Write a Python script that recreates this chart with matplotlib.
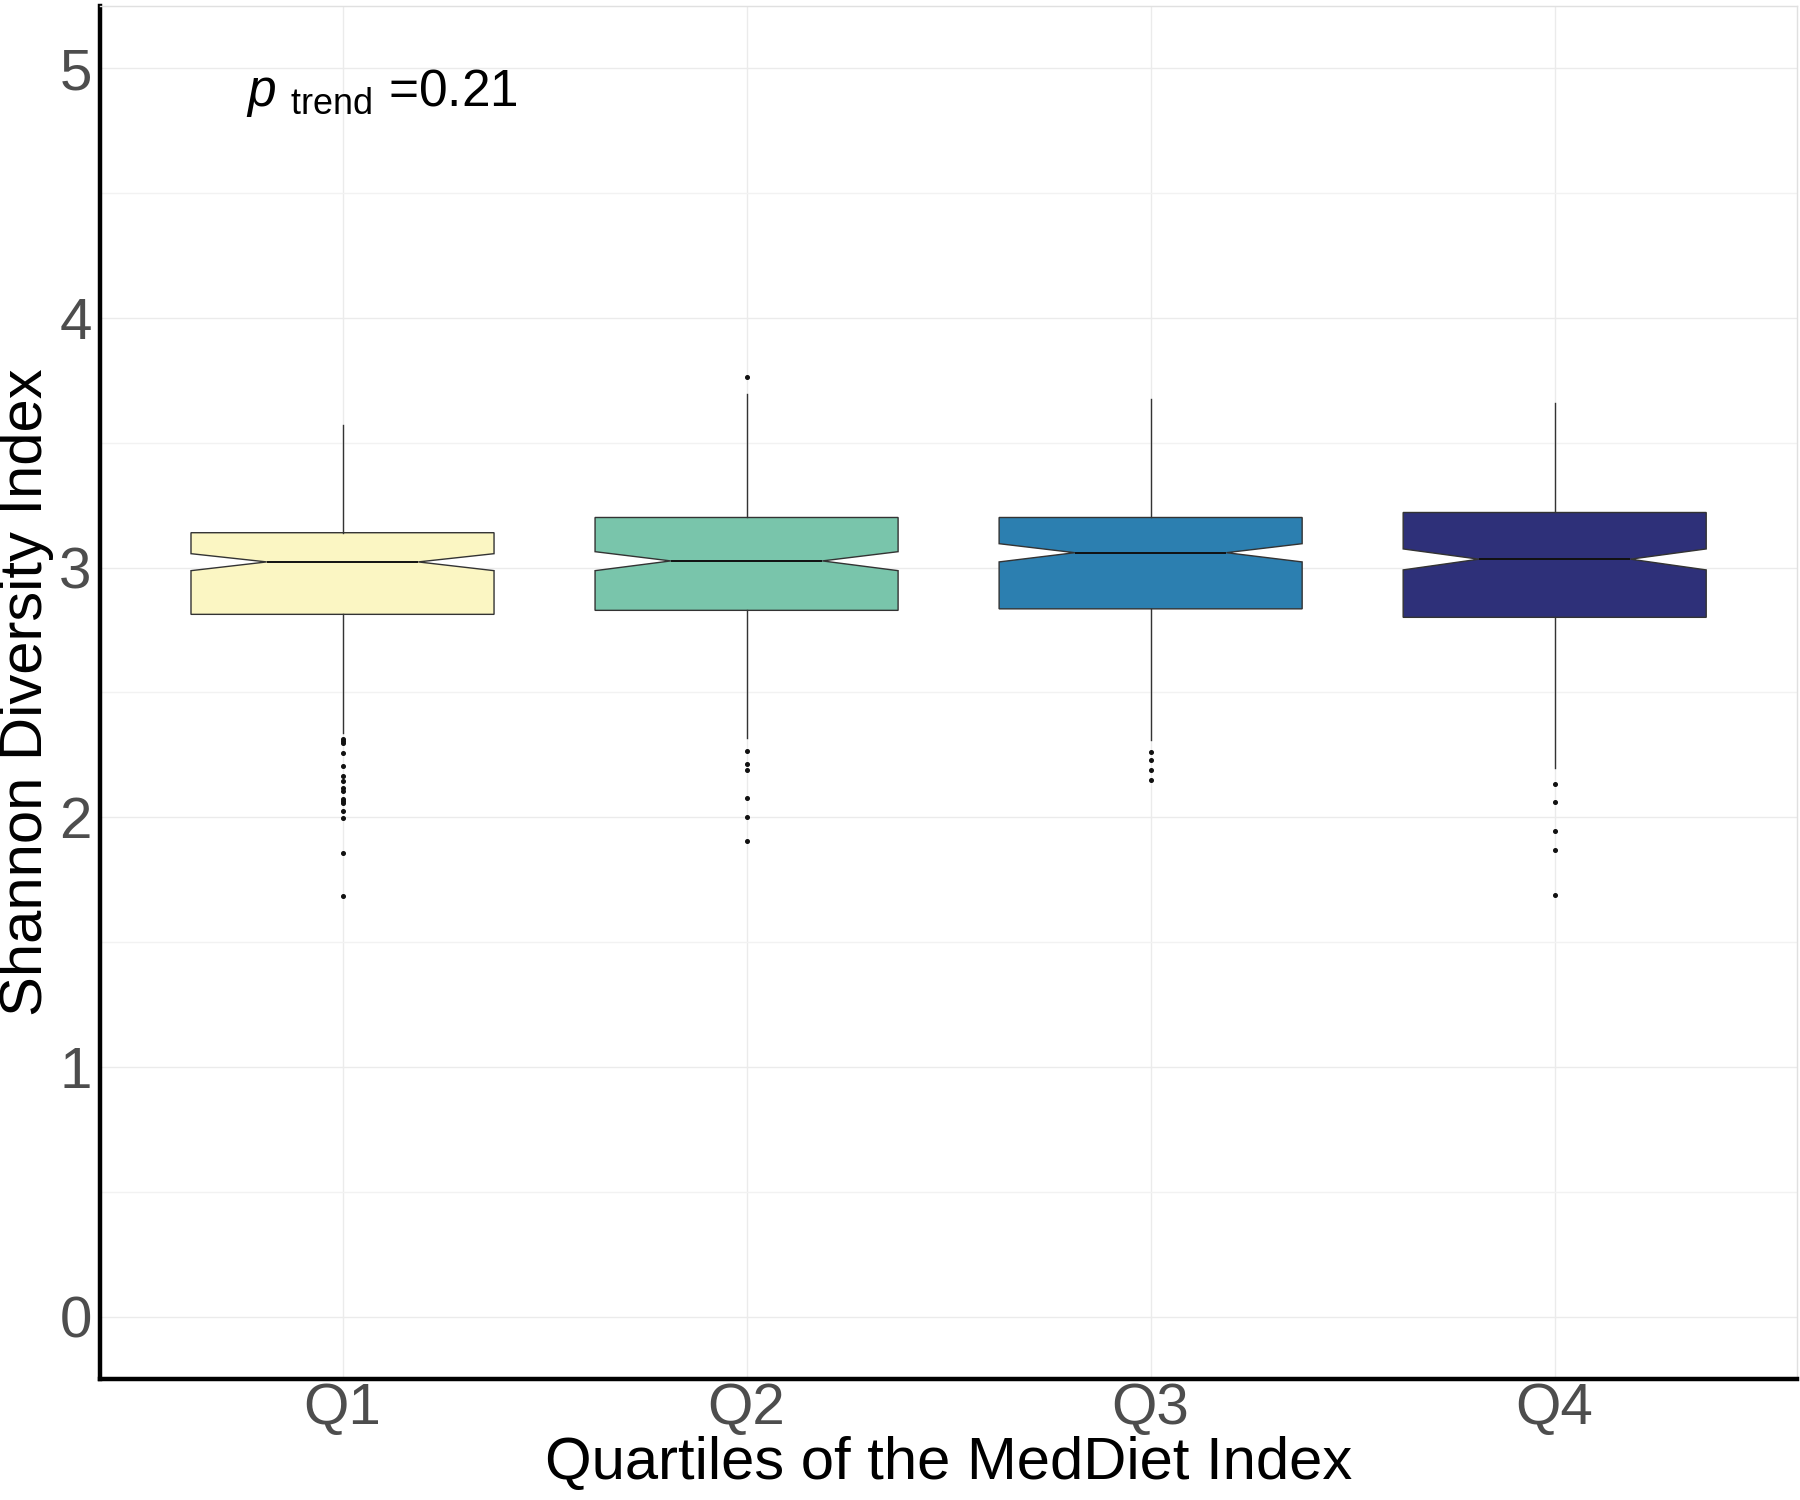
import numpy as np
import matplotlib
matplotlib.use("Agg")
import matplotlib.pyplot as plt

# summary values (Shannon diversity by MedDiet quartile)
groups = ["Q1", "Q2", "Q3", "Q4"]
q1 = [2.813, 2.829, 2.835, 2.801]
med = [3.023, 3.027, 3.060, 3.034]
q3 = [3.140, 3.201, 3.201, 3.221]
whislo = [2.337, 2.317, 2.311, 2.198]
whishi = [3.571, 3.697, 3.677, 3.660]
notch_lo = [2.988, 2.988, 3.023, 2.991]
notch_hi = [3.056, 3.064, 3.096, 3.075]
fliers = [
    [2.315, 2.304, 2.297, 2.256, 2.204, 2.164, 2.147, 2.117, 2.107,
     2.073, 2.064, 2.057, 2.024, 1.997, 1.857, 1.683],
    [3.763, 2.265, 2.213, 2.188, 2.076, 2.003, 1.905],
    [2.261, 2.228, 2.191, 2.148],
    [2.133, 2.062, 1.946, 1.870, 1.687],
]
colors = ["#fbf6c3", "#79c5ab", "#2c7fb0", "#2e3079"]
p_trend = "0.21"

plt.rcParams['font.family'] = ['Liberation Sans', 'DejaVu Sans']
plt.rcParams['mathtext.fontset'] = 'custom'
plt.rcParams['mathtext.rm'] = 'Liberation Sans'
plt.rcParams['mathtext.it'] = 'Liberation Sans:italic'

fig = plt.figure(figsize=(18, 15), dpi=100)
ax = fig.add_axes([0.0556, 0.0807, 0.9428, 0.9153])

stats = []
for i in range(len(groups)):
    stats.append(dict(med=med[i], q1=q1[i], q3=q3[i], whislo=whislo[i],
                      whishi=whishi[i], cilo=notch_lo[i], cihi=notch_hi[i],
                      fliers=fliers[i], label=groups[i]))

bp = ax.bxp(stats, positions=[1, 2, 3, 4], widths=0.75, shownotches=True,
            patch_artist=True, showcaps=False,
            boxprops=dict(edgecolor="#333333", linewidth=1.0),
            whiskerprops=dict(color="#333333", linewidth=1.0),
            medianprops=dict(color="#111111", linewidth=1.4),
            flierprops=dict(marker="o", markersize=2.6, markerfacecolor="#111111",
                            markeredgecolor="#111111", linestyle="none"))
for patch, c in zip(bp["boxes"], colors):
    patch.set_facecolor(c)
for a in bp["boxes"] + bp["whiskers"] + bp["medians"] + bp["fliers"]:
    a.set_zorder(3)

ax.set_xlim(0.4, 4.6)
ax.set_ylim(-0.25, 5.25)
ax.set_yticks([0, 1, 2, 3, 4, 5])
ax.set_yticks(np.arange(0.5, 5.0, 1.0), minor=True)
ax.set_xticks([1, 2, 3, 4])
ax.set_xticklabels(groups)

ax.grid(True, which="major", color="#ebebeb", linewidth=1.0, zorder=0)
ax.grid(True, which="minor", axis="y", color="#f2f2f2", linewidth=1.0, zorder=0)
ax.set_axisbelow(True)

ax.tick_params(axis="both", which="both", length=0, labelsize=42,
               labelcolor="#4d4d4d", pad=6)
ax.tick_params(axis="x", pad=2)

for s in ["top", "right"]:
    ax.spines[s].set_color("#e0e0e0")
    ax.spines[s].set_linewidth(1.0)
for s in ["left", "bottom"]:
    ax.spines[s].set_color("black")
    ax.spines[s].set_linewidth(3.2)

ax.set_xlabel("Quartiles of the MedDiet Index", fontsize=43, color="black", labelpad=0)
ax.set_ylabel("Shannon Diversity Index", fontsize=43, color="black", labelpad=4)

ax.text(0.76, 4.9, r"$p\ _{\mathrm{trend}}$ =" + p_trend, fontsize=37,
        ha="left", va="center", color="black")

fig.savefig("out.png", dpi=100)
